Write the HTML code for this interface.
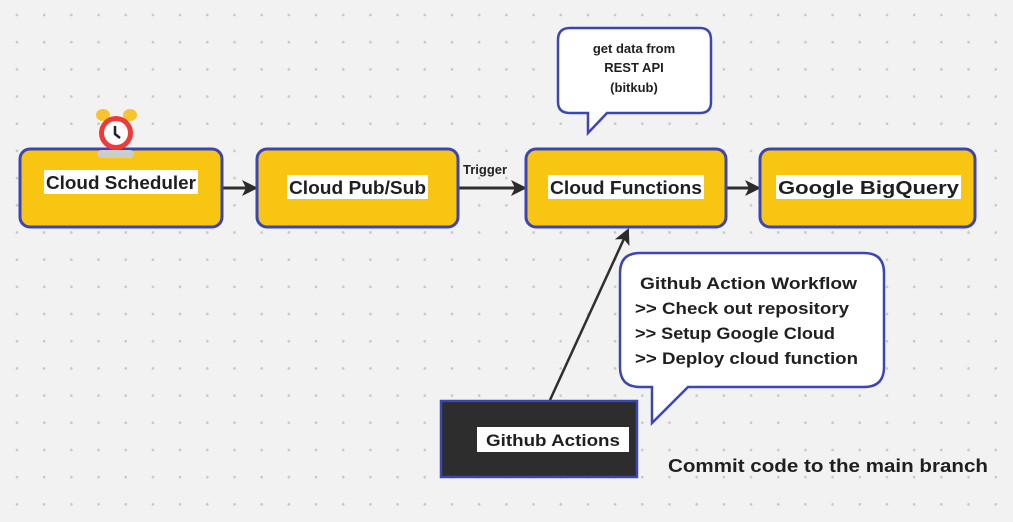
<!DOCTYPE html>
<html><head><meta charset="utf-8"><style>
html,body{margin:0;padding:0}
body{width:1013px;height:522px;overflow:hidden;background-color:#f2f2f2;
background-image:radial-gradient(circle,#c8c8c8 1.1px,transparent 1.6px);
background-size:27.2px 27.2px;background-position:3.4px 1.4px;font-family:"Liberation Sans",sans-serif;}
svg{position:absolute;left:0;top:0}
</style></head><body>
<svg width="1013" height="522" viewBox="0 0 1013 522" font-family="Liberation Sans, sans-serif" font-weight="bold">
<defs>
<marker id="b" markerWidth="16" markerHeight="16" refX="14" refY="8" orient="auto" markerUnits="userSpaceOnUse"><path d="M0,0 L16,8 L0,16 L4,8z" fill="#2b2b2b"/></marker></defs>
<g stroke="#2f2f2f" stroke-width="3" fill="none">
<line x1="222" y1="188" x2="256" y2="188" marker-end="url(#b)"/>
<line x1="459" y1="188" x2="525" y2="188" marker-end="url(#b)"/>
<line x1="727" y1="188" x2="759" y2="188" marker-end="url(#b)"/>
<line x1="550" y1="400" x2="628" y2="230" stroke-width="2.5" marker-end="url(#b)"/>
</g>
<g fill="#f8c513" stroke="#3b46b3" stroke-width="3">
<rect x="20" y="149" width="202" height="78" rx="10"/>
<rect x="257" y="149" width="201" height="78" rx="10"/>
<rect x="526" y="149" width="200" height="78" rx="10"/>
<rect x="760" y="149" width="215" height="78" rx="10"/>
</g>
<rect x="441" y="401" width="196" height="76" fill="#2d2d2d" stroke="#3b46b3" stroke-width="2.5"/>
<g fill="#fff">
<rect x="44" y="170" width="154" height="24"/>
<rect x="287" y="175" width="141" height="24"/>
<rect x="548" y="175" width="156" height="24"/>
<rect x="776" y="175" width="185" height="24"/>
<rect x="477" y="427" width="152" height="25"/>
</g>
<g fill="#1f1f1f" font-size="18">
<text x="46" y="189" textLength="150" lengthAdjust="spacingAndGlyphs">Cloud Scheduler</text>
<text x="289" y="194" textLength="137" lengthAdjust="spacingAndGlyphs">Cloud Pub/Sub</text>
<text x="550" y="194" textLength="152" lengthAdjust="spacingAndGlyphs">Cloud Functions</text>
<text x="778" y="194" textLength="181" lengthAdjust="spacingAndGlyphs">Google BigQuery</text>
<text x="486" y="446" font-size="17" textLength="134" lengthAdjust="spacingAndGlyphs">Github Actions</text>
</g>
<text x="463" y="174" font-size="13" fill="#222">Trigger</text>
<path d="M570,28 H700 Q711,28 711,40 V102 Q711,113 700,113 H607 L588,133 V113 H570 Q558,113 558,102 V40 Q558,28 570,28Z" fill="#fff" stroke="#3b46b3" stroke-width="2.5"/>
<g fill="#1f1f1f" font-size="13" text-anchor="middle">
<text x="634" y="53">get data from</text><text x="634" y="72">REST API</text><text x="634" y="92">(bitkub)</text>
</g>
<path d="M640,253 H864 Q884,253 884,273 V367 Q884,387 864,387 H688 L652,423 V387 H640 Q620,387 620,367 V273 Q620,253 640,253Z" fill="#fff" stroke="#3b46b3" stroke-width="2.5"/>
<g fill="#1f1f1f" font-size="17">
<text x="640" y="289" textLength="217" lengthAdjust="spacingAndGlyphs">Github Action Workflow</text>
<text x="635" y="314" textLength="214" lengthAdjust="spacingAndGlyphs">&gt;&gt; Check out repository</text>
<text x="635" y="339" textLength="200" lengthAdjust="spacingAndGlyphs">&gt;&gt; Setup Google Cloud</text>
<text x="635" y="364" textLength="223" lengthAdjust="spacingAndGlyphs">&gt;&gt; Deploy cloud function</text>
<text x="668" y="472" font-size="18" textLength="320" lengthAdjust="spacingAndGlyphs">Commit code to the main branch</text>
</g>
<g>
<ellipse cx="103" cy="115" rx="7" ry="6" fill="#f7c430"/>
<ellipse cx="130" cy="115" rx="7" ry="6" fill="#f7c430"/>
<rect x="97" y="150" width="37" height="8" rx="4" fill="#ccc"/>
<circle cx="116" cy="133" r="17" fill="#ef3a3a"/>
<circle cx="116" cy="133" r="12" fill="#fff"/>
<path d="M115,126 V134 L120,138" stroke="#222" stroke-width="2.5" fill="none"/>
</g>
</svg>
</body></html>
